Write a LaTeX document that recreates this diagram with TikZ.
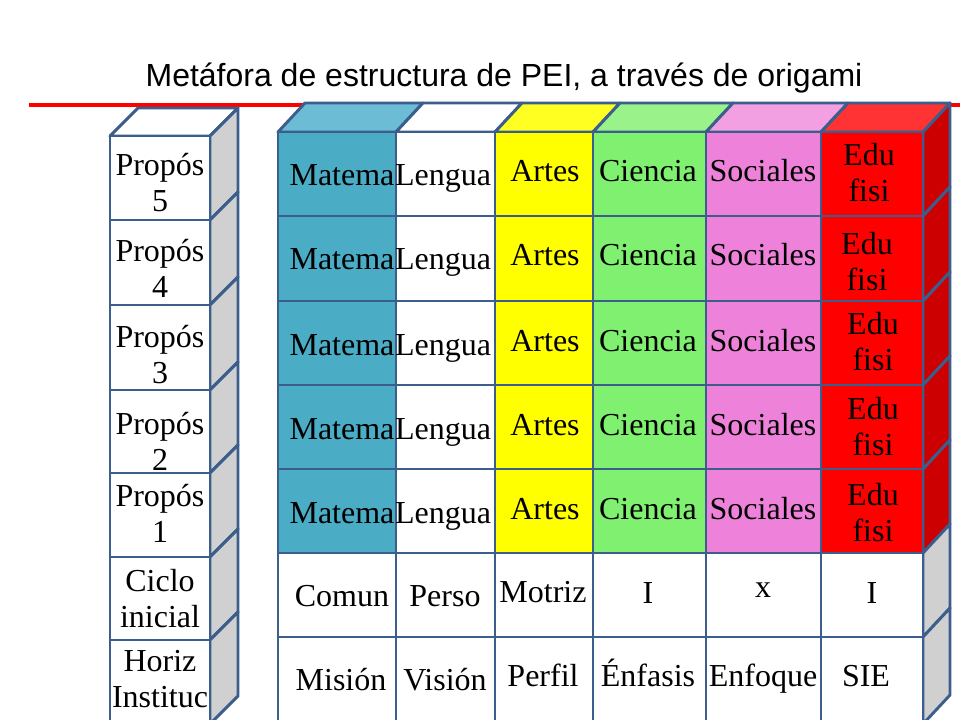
\documentclass[tikz,border=0pt]{standalone}
\usepackage{fontspec}
\setmainfont{Liberation Serif}
\newfontfamily\titlefont{Liberation Sans}
\definecolor{bord}{HTML}{3B5E8C}
\definecolor{mat}{HTML}{4BACC6}
\definecolor{mattop}{HTML}{6DBCD6}
\definecolor{yel}{HTML}{FFFF00}
\definecolor{yeltop}{HTML}{FFFF22}
\definecolor{cien}{HTML}{80F070}
\definecolor{cientop}{HTML}{99F28A}
\definecolor{soc}{HTML}{EE82DA}
\definecolor{soctop}{HTML}{F2A0E2}
\definecolor{edu}{HTML}{FF0000}
\definecolor{edutop}{HTML}{FF3333}
\definecolor{eduside}{HTML}{CC0000}
\definecolor{sidegray}{HTML}{D0D0D0}
\begin{document}
\begin{tikzpicture}[x=0.75pt,y=-0.75pt,
  face/.style={draw=bord,line width=2.2pt,line join=round},
  lbl/.style={font=\fontsize{24}{27}\selectfont,align=center,inner sep=0pt},
  one/.style={lbl,anchor=base}]
\useasboundingbox (0,0) rectangle (960,720);
\fill[white] (0,0) rectangle (960,720);
\draw[red,line width=2.3pt] (29,105) -- (960,105);
\node[font=\titlefont\fontsize{24}{28}\selectfont,inner sep=0pt,anchor=base] (title) at (504,87) {Metáfora de estructura de PEI, a través de origami};

% left column
\filldraw[face,fill=white] (110,136) -- (138,108) -- (238,108) -- (210,136) -- cycle;
\foreach \ya/\yb in {136/220,220/305,305/390,390/473,473/557,557/640,640/724}{
  \filldraw[face,fill=sidegray] (210,\ya) -- (238,\ya-28) -- (238,\yb-28) -- (210,\yb) -- cycle;
  \filldraw[face,fill=white] (110,\ya) rectangle (210,\yb);
}
\node[lbl] (p5) at (160,183) {Propós\\5};
\node[lbl] (p4) at (160,268) {Propós\\4};
\node[lbl] (p3) at (160,355) {Propós\\3};
\node[lbl] (p2) at (160,441) {Propós\\2};
\node[lbl] (p1) at (160,513) {Propós\\1};
\node[lbl] (ci) at (160,599) {Ciclo\\inicial};
\node[lbl] (hi) at (160,679) {Horiz\\Instituc};

% main block: top faces
\foreach \xa/\xb/\col in {278/396/mattop,396/495/white,495/593/yeltop,593/706/cientop,706/821/soctop,821/923/edutop}{
  \filldraw[face,fill=\col] (\xa,132) -- (\xa+27,103) -- (\xb+27,103) -- (\xb,132) -- cycle;
}
% side faces
\foreach \ya/\yb/\col in {132/216/eduside,216/301/eduside,301/385/eduside,385/469/eduside,469/553/eduside,553/637/sidegray,637/724/sidegray}{
  \filldraw[face,fill=\col] (923,\ya) -- (950,\ya-29) -- (950,\yb-29) -- (923,\yb) -- cycle;
}
% front cells
\foreach \ya/\yb in {132/216,216/301,301/385,385/469,469/553}{
  \foreach \xa/\xb/\col in {278/396/mat,396/495/white,495/593/yel,593/706/cien,706/821/soc,821/923/edu}{
    \filldraw[face,fill=\col] (\xa,\ya) rectangle (\xb,\yb);
  }
}
\foreach \ya/\yb in {553/637,637/724}{
  \foreach \xa/\xb in {278/396,396/495,495/593,593/706,706/821,821/923}{
    \filldraw[face,fill=white] (\xa,\ya) rectangle (\xb,\yb);
  }
}

% labels rows 1-5
\foreach \r/\ym/\ya in {1/186/182,2/270/266,3/355/351,4/439/435,5/523/519}{
  \node[one] (mat\r) at (342,\ym) {Matema};
  \node[one] (len\r) at (443,\ym) {Lengua};
  \node[one] (art\r) at (545,\ya) {Artes};
  \node[one] (cie\r) at (648,\ya) {Ciencia};
  \node[one] (soc\r) at (763,\ya) {Sociales};
}
\node[lbl] (edu1) at (869,173) {Edu\\fisi};
\node[lbl] (edu2) at (867,262) {Edu\\fisi};
\node[lbl] (edu3) at (873,342) {Edu\\fisi};
\node[lbl] (edu4) at (873,427) {Edu\\fisi};
\node[lbl] (edu5) at (873,513) {Edu\\fisi};

% row 6
\node[one] (comun) at (342,606) {Comun};
\node[one] (perso) at (445,606) {Perso};
\node[one] (motriz) at (543,602) {Motriz};
\node[one] (i1) at (648,603) {I};
\node[one] (xx) at (763,597) {x};
\node[one] (i2) at (872,603) {I};
% row 7
\node[one] (mision) at (341,690) {Misión};
\node[one] (vision) at (445,690) {Visión};
\node[one] (perfil) at (543,686) {Perfil};
\node[one] (enfasis) at (648,686) {Énfasis};
\node[one] (enfoque) at (763,686) {Enfoque};
\node[one] (sie) at (866,686) {SIE};
\end{tikzpicture}
\end{document}
